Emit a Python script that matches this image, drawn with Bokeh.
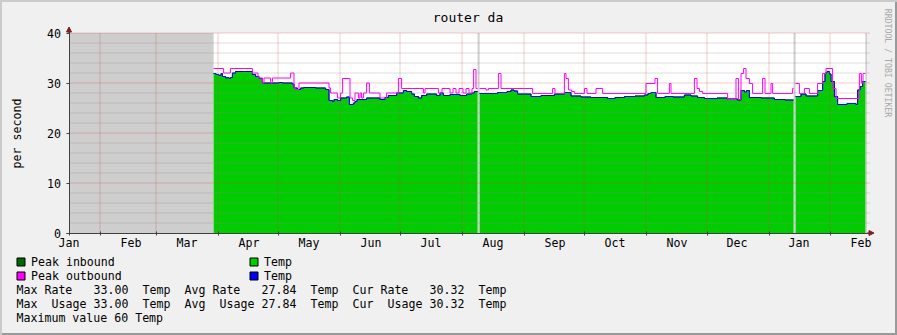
import math
from bokeh.plotting import figure
from bokeh.models import FixedTicker, Arrow, NormalHead, Range1d
from bokeh.core.properties import value
from bokeh.embed import file_html
from bokeh.resources import INLINE

nan = float("nan")

# ---------------- data ----------------
title_text = "router da"
y_label = "per second"
watermark = "RRDTOOL / TOBI OETIKER"

month_labels = ["Jan", "Feb", "Mar", "Apr", "May", "Jun", "Jul", "Aug",
                "Sep", "Oct", "Nov", "Dec", "Jan", "Feb"]
month_days = [0, 31, 59, 90, 120, 151, 181, 212, 243, 273, 304, 334, 365, 396]
grid_days = [15.5, 43.5, 74.5, 104.5, 135.5, 165.5, 196.5, 227.5, 257.5,
             288.5, 319, 350, 380.5]
y_major = [0, 10, 20, 30, 40]
y_minor = [v for v in range(2, 40, 2) if v % 10]
y_max = 40
end_day = 399

# average inbound "Temp" (green area) - step start day, value (nan = unknown)
in_day = [72.3, 73.5, 75.0, 76.0, 76.7, 78.3, 79.2, 80.0, 80.8, 81.7, 83.3, 91.7, 93.3,
          95.0, 96.7, 105.0, 106.7, 111.7, 112.5, 114.2, 115.8, 117.5, 123.3, 128.3,
          130.0, 131.7, 132.5, 134.2, 135.8, 138.8, 140.2, 142.2, 143.0, 144.0, 148.8,
          155.5, 158.0, 159.7, 163.8, 167.2, 168.8, 171.3, 172.7, 174.7, 176.3, 178.8,
          183.8, 185.5, 187.2, 190.5, 195.5, 198.8, 201.3, 202.7, 204.3, 205.3, 214.3,
          219.0, 221.0, 222.5, 224.3, 231.0, 236.0, 242.7, 247.7, 251.0, 256.0, 261.0,
          269.3, 273.0, 277.7, 283.0, 287.7, 289.5, 291.0, 293.5, 298.0, 302.0, 307.7,
          311.0, 314.3, 317.7, 324.0, 329.0, 334.3, 336.0, 337.7, 338.8, 340.2, 346.0,
          352.7, 358.0, 362.3, 363.3, 366.0, 368.5, 374.3, 376.8, 378.0, 379.0, 380.2,
          381.0, 382.7, 384.3, 389.0, 393.5, 394.3, 395.5, 396.8, 398.2]
in_val = [31.9, 31.7, 31.5, 31.9, 31.3, 31.0, 31.1, 30.9, 31.1, 32.0, 32.3, 31.7, 31.3,
          30.9, 30.0, 30.1, 30.0, 29.8, 29.0, 28.7, 29.0, 29.1, 29.0, 28.7,
          26.5, 26.3, 26.7, 26.5, 27.0, 27.2, 25.7, 26.0, 26.3, 26.7, 27.0,
          26.7, 27.1, 27.5, 28.0, 28.5, 28.3, 27.8, 27.3, 27.0, 27.5, 27.8,
          27.5, 28.0, 27.5, 27.7, 27.5, 27.8, 28.0, 28.3, nan, 27.9, 28.1,
          28.3, 28.6, 28.4, 27.8, 27.3, 27.5, 27.8, 28.1, 27.4, 27.2, 27.1,
          26.9, 27.1, 27.3, 27.4, 27.6, 27.9, 28.1, 27.1, 27.3, 27.2, 27.6,
          27.4, 27.1, 26.9, 27.0, 26.8, 26.6, 28.5, 28.2, 28.5, 27.1, 27.0,
          26.7, 26.6, nan, 27.3, 27.8, 27.4, 28.5, 30.3, 32.0, 32.3, 31.8,
          30.3, 27.3, 25.7, 25.9, 25.7, 28.6, 29.3, 30.3, nan]

# average outbound "Temp" (blue line) and peak inbound trace coincide with the inbound one
out_day, out_val = in_day, in_val
pkin_day, pkin_val = in_day, in_val

# peak outbound (magenta line)
pkout_day = [72.3, 77.3, 80.7, 91.7, 94.5, 96.7, 97.5, 100.8, 101.7, 110.8, 112.5, 113.3,
             115.0, 130.0, 130.8, 134.2, 135.8, 136.8, 140.5, 141.8, 143.0, 144.7, 145.5,
             146.3, 147.2, 148.8, 150.2, 155.5, 158.8, 164.7, 166.3, 177.2, 178.0, 184.7,
             186.5, 190.5, 192.0, 193.5, 195.0, 197.0, 198.5, 200.0, 201.5, 202.3, 203.5,
             204.3, 205.3, 208.5, 209.7, 214.7, 216.0, 231.8, 241.8, 243.0, 247.7, 248.5,
             249.7, 251.3, 252.7, 257.7, 259.0, 263.5, 266.8, 288.5, 293.0, 294.3, 300.2,
             301.0, 312.7, 314.0, 315.2, 316.8, 329.3, 333.5, 334.7, 336.0, 337.3, 338.5,
             340.2, 341.8, 346.8, 348.0, 351.0, 351.8, 361.8, 362.3, 363.3, 365.2, 367.7,
             370.2, 374.3, 376.8, 378.5, 381.8, 383.5, 395.2, 396.2, 397.0, 398.2]
pkout_val = [32.9, 32.0, 32.9, 32.0, 31.0, 30.0, 31.0, 30.0, 31.0, 32.0, 29.0, 28.7,
             30.0, 29.0, 28.0, 27.0, 28.0, 30.9, 27.0, 26.5, 28.0, 27.0, 28.0,
             27.0, 28.0, 30.0, 28.0, 27.0, 28.0, 30.9, 28.9, 28.0, 28.9, 28.0,
             28.9, 28.0, 28.9, 28.0, 28.9, 28.0, 28.9, 28.0, 28.9, 32.7, 28.9,
             nan, 28.9, 28.6, 28.9, 31.9, 28.9, 27.9, 28.9, 27.9, 31.9, 30.9,
             28.6, 28.3, 27.9, 28.9, 27.9, 28.9, 27.9, 29.9, 30.9, 27.9, 29.9,
             27.9, 30.9, 28.9, 28.3, 27.9, 26.7, 30.9, 26.7, 31.9, 32.9, 30.9,
             29.9, 27.9, 30.9, 27.9, 29.9, 27.9, 28.9, nan, 29.9, 27.9, 28.9,
             27.9, 29.9, 31.9, 32.9, 28.9, 26.9, 31.9, 30.0, 31.9, nan]

legend_names = ["Peak inbound", "Temp", "Peak outbound", "Temp"]
legend_colors = ["#006600", "#00cc00", "#ff00ff", "#0000ff"]
unit = "Temp"
max_rate, avg_rate, cur_rate = 33.00, 27.84, 30.32
max_usage, avg_usage, cur_usage = 33.00, 27.84, 30.32
max_value = 60

# ---------------- helpers ----------------
def is_nan(v):
    return isinstance(v, float) and math.isnan(v)


def segments(days, vals, end):
    segs, cur = [], []
    ends = list(days[1:]) + [end]
    for d0, d1, v in zip(days, ends, vals):
        if is_nan(v):
            if cur:
                segs.append(cur)
                cur = []
            continue
        cur.append((d0, d1, v))
    if cur:
        segs.append(cur)
    return segs


def step_paths(days, vals, end):
    xs_all, ys_all = [], []
    for seg in segments(days, vals, end):
        xs, ys = [], []
        for d0, d1, v in seg:
            xs += [d0, d1]
            ys += [v, v]
        xs_all.append(xs)
        ys_all.append(ys)
    return xs_all, ys_all


def unknown_spans(days, vals, end):
    spans = []
    if days[0] > 0:
        spans.append((0, days[0]))
    ends = list(days[1:]) + [end]
    for d0, d1, v in zip(days, ends, vals):
        if is_nan(v):
            spans.append((d0, d1))
    return spans


FONT = "DejaVu Sans Mono"
FS = "11.6px"
W, H = 897, 335
X0_PX, Y0_PX = 68.5, 232.5      # where day 0 / value 0 sit on the canvas
PX_PER_DAY, PX_PER_UNIT = 2.0, 5.0


def px_day(px):
    return (px - X0_PX) / PX_PER_DAY


def py_val(py):
    return (Y0_PX - py) / PX_PER_UNIT


# The frame covers the whole canvas; axes are pinned at day 0 / value 0.
p = figure(width=W, height=H,
           x_range=Range1d(px_day(0), px_day(W)),
           y_range=Range1d(py_val(H), py_val(0)),
           output_backend="svg", toolbar_location=None, min_border=0, title=None)
p.border_fill_alpha = 0
p.background_fill_alpha = 0
p.outline_line_color = None
p.xgrid.visible = False
p.ygrid.visible = False
p.styles = {"background-color": "#f0f0f0",
            "box-shadow": "inset 2px 2px 0 0 #cbcbcb, inset -2px -2px 0 0 #999999"}

# white canvas of the graph
p.quad(left=[0], right=[end_day], bottom=[0], top=[y_max], fill_color="#ffffff", line_color=None)

# unknown data (grey)
spans = unknown_spans(in_day, in_val, end_day)
p.quad(left=[s[0] for s in spans], right=[s[1] for s in spans], bottom=0, top=y_max,
       fill_color="#cecece", line_color=None)

# inbound area
axs, ays = step_paths(in_day, in_val, end_day)
pxs = [[x[0]] + x + [x[-1]] for x in axs]
pys = [[0] + y + [0] for y in ays]
p.patches(pxs, pys, fill_color="#00cc00", line_color=None)

xs, ys = step_paths(pkin_day, pkin_val, end_day)
p.multi_line(xs, ys, line_color="#006600", line_width=1)
xs, ys = step_paths(out_day, out_val, end_day)
p.multi_line(xs, ys, line_color="#0000ff", line_width=1)
xs, ys = step_paths(pkout_day, pkout_val, end_day)
p.multi_line(xs, ys, line_color="#ff00ff", line_width=1)

# grid on top of the data (semi transparent, as rrdtool does)
grid_right = end_day + 1.5
p.segment(x0=0, x1=grid_right, y0=y_minor, y1=y_minor, line_color="#8f8f8f",
          line_alpha=0.3, line_width=1)
p.segment(x0=0, x1=grid_right, y0=y_major[1:], y1=y_major[1:], line_color="#c84040",
          line_alpha=0.28, line_width=1)
p.segment(x0=grid_days, x1=grid_days, y0=0, y1=y_max, line_color="#c84040",
          line_alpha=0.28, line_width=1)

# title, y label and watermark
p.text(x=[px_day(467.5)], y=[py_val(16.5)], text=[title_text], text_align="center",
       text_baseline="middle", text_font=value(FONT), text_font_size=value("13px"),
       text_color="#000000")
p.text(x=[px_day(16.5)], y=[py_val(133)], text=[y_label], angle=math.pi / 2,
       text_align="center", text_baseline="middle", text_font=value(FONT),
       text_font_size=value(FS), text_color="#000000")
p.text(x=[px_day(887)], y=[py_val(62.5)], text=[watermark], angle=-math.pi / 2,
       text_align="center", text_baseline="middle", text_font=value(FONT),
       text_font_size=value("8.2px"), text_color="#a8a8a8")

# axes (pinned to the data origin)
xa = p.xaxis[0]
xa.fixed_location = 0
xa.ticker = FixedTicker(ticks=month_days, minor_ticks=grid_days)
xa.major_label_overrides = {d: m for d, m in zip(month_days, month_labels)}
xa.bounds = (-1.25, 402)
xa.major_tick_out = 0
xa.major_tick_in = 0
xa.minor_tick_out = 2
xa.minor_tick_in = 2
xa.major_label_standoff = 1
ya = p.yaxis[0]
ya.fixed_location = 0
ya.ticker = FixedTicker(ticks=y_major, minor_ticks=[])
ya.bounds = (-0.5, 41.2)
ya.major_tick_out = 3
ya.major_tick_in = 0
ya.minor_tick_out = 0
ya.minor_tick_in = 0
ya.major_label_standoff = 5
for ax in (xa, ya):
    ax.axis_line_color = "#404040"
    ax.major_tick_line_color = "#404040"
    ax.minor_tick_line_color = "#404040"
    ax.major_label_text_font = FONT
    ax.major_label_text_font_size = FS
    ax.major_label_text_color = "#000000"

# axis arrows
arrow_c = "#7f1f1f"
p.add_layout(Arrow(end=NormalHead(size=5, fill_color=arrow_c, line_color=arrow_c),
                   x_start=0, y_start=y_max, x_end=0, y_end=41.2,
                   line_color=arrow_c, line_width=1))
p.add_layout(Arrow(end=NormalHead(size=5, fill_color=arrow_c, line_color=arrow_c),
                   x_start=end_day, y_start=0, x_end=end_day + 3.5, y_end=0,
                   line_color=arrow_c, line_width=1))

# ---------------- legend ----------------
row_py = [261, 275, 289, 303, 317]
box_px = [16.5, 249.5, 16.5, 249.5]
box_row = [0, 0, 1, 1]
p.quad(left=[px_day(b) for b in box_px], right=[px_day(b + 8) for b in box_px],
       top=[py_val(row_py[r] - 3.5) for r in box_row],
       bottom=[py_val(row_py[r] + 4.5) for r in box_row],
       fill_color=legend_colors, line_color="#000000", line_width=1)

texts, tx, ty = [], [], []
for name, bx, r in zip(legend_names, box_px, box_row):
    texts.append(name)
    tx.append(px_day(bx + 14))
    ty.append(py_val(row_py[r]))


def col_px(c):
    return 16 + 7 * c


row3 = [("Max Rate", 0), ("%.2f" % max_rate, 11), (unit, 18), ("Avg Rate", 24),
        ("%.2f" % avg_rate, 35), (unit, 42), ("Cur Rate", 48), ("%.2f" % cur_rate, 59), (unit, 66)]
row4 = [("Max", 0), ("Usage", 5), ("%.2f" % max_usage, 11), (unit, 18), ("Avg", 24),
        ("Usage", 29), ("%.2f" % avg_usage, 35), (unit, 42), ("Cur", 48), ("Usage", 53),
        ("%.2f" % cur_usage, 59), (unit, 66)]
for row, ry in ((row3, row_py[2]), (row4, row_py[3])):
    for txt, c in row:
        texts.append(txt)
        tx.append(px_day(col_px(c)))
        ty.append(py_val(ry))
texts.append("Maximum value %d %s" % (max_value, unit))
tx.append(px_day(col_px(0)))
ty.append(py_val(row_py[4]))

p.text(x=tx, y=ty, text=texts, text_align="left", text_baseline="middle",
       text_font=value(FONT), text_font_size=value(FS), text_color="#000000")

open("out.html", "w").write(file_html(p, INLINE))
